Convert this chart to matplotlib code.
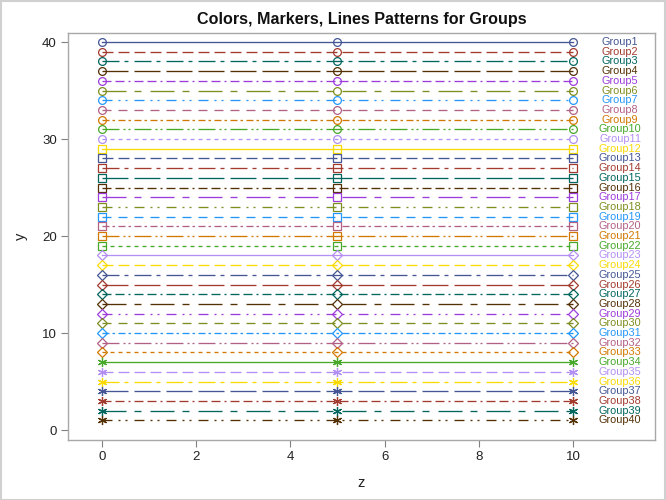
import matplotlib
matplotlib.use("Agg")
import matplotlib.pyplot as plt
from matplotlib.patches import Rectangle

plt.rcParams['font.family'] = ['Liberation Sans', 'DejaVu Sans']
plt.rcParams['lines.scale_dashes'] = False

# ---- data ----
x_values = [0, 5, 10]
group_names = [f"Group{i}" for i in range(1, 41)]
group_y = [40, 39, 38, 37, 36, 35, 34, 33, 32, 31,
           30, 29, 28, 27, 26, 25, 24, 23, 22, 21,
           20, 19, 18, 17, 16, 15, 14, 13, 12, 11,
           10, 9, 8, 7, 6, 5, 4, 3, 2, 1]
x_ticks = [0, 2, 4, 6, 8, 10]
y_ticks = [0, 10, 20, 30, 40]

# ---- styles ----
colors = ['#445694', '#A23A2E', '#01665E', '#543005', '#9D3CDB', '#7F8E1F',
          '#2597FA', '#B26084', '#D17800', '#47A82A', '#B38EF3', '#F9DA04']
px = 0.72  # pixel -> point at 100 dpi
dash_px = [None, [11, 5], [17, 5, 4, 6], [26, 6], [9, 4, 9, 4, 2, 4],
           [24, 8, 7, 9], [10, 6, 2, 5, 2, 7], [9, 7], [7, 3, 2.5, 3.5],
           [17, 4, 2, 3, 2, 4], [4, 4]]
markers = ['o', 's', 'D', (6, 2, 0)]
msizes = [5.6, 5.2, 4.8, 6.5]

fig = plt.figure(figsize=(6.66, 5.0), dpi=100)
ax = fig.add_axes([68 / 666, 1 - 440 / 500, (655 - 68) / 666, (440 - 33) / 500])

for i, (name, yv) in enumerate(zip(group_names, group_y)):
    c = colors[i % 12]
    d = dash_px[i % 11]
    ls = '-' if d is None else (0, [v * px for v in d])
    m = markers[i // 11]
    ms = msizes[i // 11]
    ax.plot(x_values, [yv] * len(x_values), color=c, linestyle=ls, linewidth=0.95,
            dash_capstyle='butt', marker=m, markersize=ms, markerfacecolor='none',
            markeredgecolor=c, markeredgewidth=0.9)
    ax.text(11.0, yv, name, color=c, fontsize=7.8, ha='center', va='center')

ax.set_xlim(-0.72, 11.74)
ax.set_ylim(-1.03, 40.93)
ax.set_xticks(x_ticks)
ax.set_yticks(y_ticks)
ax.tick_params(axis='both', direction='out', length=5, width=0.8, color='#808080',
               labelsize=9.5, labelcolor='#222222', pad=3)
for s in ax.spines.values():
    s.set_color('#a8a8a8')
    s.set_linewidth(1.0)
ax.set_xlabel('z', fontsize=10.5, color='#222222', labelpad=9)
ax.set_ylabel('y', fontsize=10.5, color='#222222', labelpad=10)
ax.set_title('Colors, Markers, Lines Patterns for Groups', fontsize=11.6,
             fontweight='bold', color='#111111', pad=6.5)

fig.patches.append(Rectangle((0.001, 0.001), 0.997, 0.997, transform=fig.transFigure,
                             fill=False, edgecolor='#d0d0d0', linewidth=1.5))

fig.savefig('out.png', dpi=100)
